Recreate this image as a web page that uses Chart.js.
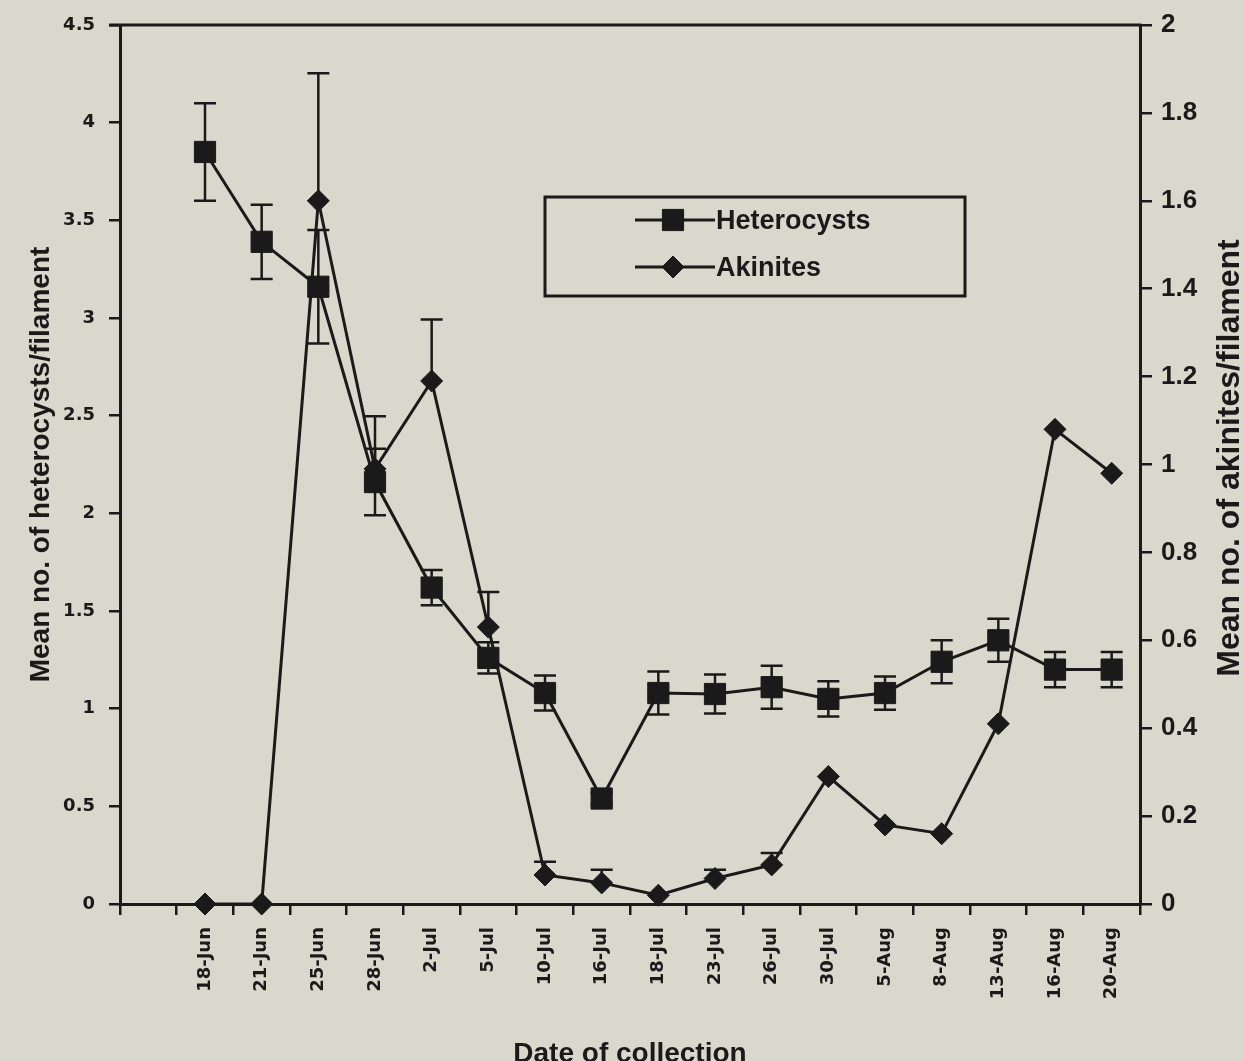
<!DOCTYPE html>
<html>
<head>
<meta charset="utf-8">
<script src="https://cdn.jsdelivr.net/npm/chart.js@4.4.0/dist/chart.umd.min.js"></script>
<style>
  html, body { margin: 0; padding: 0; background: #d9d8cc; }
  canvas { display: block; }
</style>
</head>
<body>
<canvas id="myChart" width="1244" height="1061"></canvas>
<script>
// dates of collection (first slot on the axis is left empty, as in the original)
var dates = ['18-Jun', '21-Jun', '25-Jun', '28-Jun', '2-Jul', '5-Jul', '10-Jul', '16-Jul', '18-Jul',
  '23-Jul', '26-Jul', '30-Jul', '5-Aug', '8-Aug', '13-Aug', '16-Aug', '20-Aug'];

// mean heterocysts per filament (left axis) and error (+/-)
var heterocysts = [3.85, 3.39, 3.16, 2.16, 1.62, 1.26, 1.08, 0.54, 1.08, 1.075, 1.11, 1.05, 1.08, 1.24, 1.35, 1.20, 1.20];
var heterocystsErr = [0.25, 0.19, 0.29, 0.17, 0.09, 0.08, 0.09, 0.03, 0.11, 0.10, 0.11, 0.09, 0.085, 0.11, 0.11, 0.09, 0.09];

// mean akinites per filament (right axis) and error (plus only)
var akinites = [0, 0, 1.60, 0.99, 1.19, 0.63, 0.066, 0.048, 0.02, 0.058, 0.089, 0.29, 0.18, 0.16, 0.41, 1.08, 0.98];
var akinitesErr = [0, 0, 0.29, 0.12, 0.14, 0.08, 0.03, 0.03, 0, 0.02, 0.027, 0, 0, 0, 0, 0, 0];

var ink = '#1a1a1a';
var fontFamily = "'Liberation Sans', Arial, sans-serif";
var wideFont = "'DejaVu Sans', Verdana, sans-serif";

var labels = [''].concat(dates);
var padNull = function(arr) { return [null].concat(arr); };
var plainNum = function(v) { return String(+(+v).toFixed(2)); };

var errorBars = {
  id: 'errorBars',
  beforeDatasetsDraw: function(chart) {
    var ctx = chart.ctx;
    ctx.save();
    ctx.strokeStyle = ink;
    ctx.lineWidth = 2.5;
    chart.data.datasets.forEach(function(ds, i) {
      var meta = chart.getDatasetMeta(i);
      var yScale = chart.scales[ds.yAxisID];
      ds.err.forEach(function(e, j) {
        var v = ds.data[j];
        if (v === null || !e) return;
        var x = meta.data[j].x;
        var yMid = yScale.getPixelForValue(v);
        var yTop = yScale.getPixelForValue(v + e);
        var yBot = ds.plusOnly ? yMid : yScale.getPixelForValue(v - e);
        ctx.beginPath();
        ctx.moveTo(x, yTop); ctx.lineTo(x, yBot);
        ctx.moveTo(x - 11, yTop); ctx.lineTo(x + 11, yTop);
        if (!ds.plusOnly) { ctx.moveTo(x - 11, yBot); ctx.lineTo(x + 11, yBot); }
        ctx.stroke();
      });
    });
    ctx.restore();
  }
};

var frameAndLegend = {
  id: 'frameAndLegend',
  afterDraw: function(chart) {
    var ctx = chart.ctx;
    var a = chart.chartArea;
    ctx.save();
    // top border of the plot
    ctx.strokeStyle = ink;
    ctx.lineWidth = 3;
    ctx.beginPath();
    ctx.moveTo(a.left - 11, a.top);
    ctx.lineTo(a.right + 1.5, a.top);
    ctx.stroke();

    // right axis title, reading bottom to top
    ctx.fillStyle = ink;
    ctx.font = 'bold 32px ' + fontFamily;
    ctx.textAlign = 'center';
    ctx.textBaseline = 'middle';
    ctx.translate(1230, 458);
    ctx.rotate(-Math.PI / 2);
    ctx.fillText('Mean no. of akinites/filament', 0, 0);
    ctx.restore();

    // legend box
    ctx.save();
    ctx.strokeStyle = ink;
    ctx.lineWidth = 3;
    ctx.strokeRect(545, 197, 420, 99);
    var rows = [220, 267];
    chart.data.datasets.forEach(function(ds, i) {
      var y = rows[i];
      ctx.strokeStyle = ink;
      ctx.lineWidth = 3;
      ctx.beginPath();
      ctx.moveTo(635, y); ctx.lineTo(715, y);
      ctx.stroke();
      ctx.fillStyle = ink;
      ctx.lineWidth = 1;
      Chart.helpers.drawPoint(ctx, {
        pointStyle: ds.pointStyle, radius: ds.pointRadius, borderWidth: 1, rotation: 0
      }, 673, y);
      ctx.fillStyle = ink;
      ctx.font = 'bold 27px ' + fontFamily;
      ctx.textAlign = 'left';
      ctx.textBaseline = 'middle';
      ctx.fillText(ds.label, 716, y + 2);
    });
    ctx.restore();
  }
};

var ctx = document.getElementById('myChart').getContext('2d');
var chart = new Chart(ctx, {
  type: 'line',
  data: {
    labels: labels,
    datasets: [{
      label: 'Heterocysts',
      data: padNull(heterocysts),
      err: padNull(heterocystsErr),
      plusOnly: false,
      yAxisID: 'y',
      borderColor: ink,
      backgroundColor: ink,
      borderWidth: 3,
      pointStyle: 'rect',
      pointRadius: 15,
      pointBorderWidth: 1,
      pointBackgroundColor: ink,
      pointBorderColor: ink,
      tension: 0,
      clip: false
    }, {
      label: 'Akinites',
      data: padNull(akinites),
      err: padNull(akinitesErr),
      plusOnly: true,
      yAxisID: 'y1',
      borderColor: ink,
      backgroundColor: ink,
      borderWidth: 3,
      pointStyle: 'rectRot',
      pointRadius: 11,
      pointBorderWidth: 1,
      pointBackgroundColor: ink,
      pointBorderColor: ink,
      tension: 0,
      clip: false
    }]
  },
  options: {
    responsive: false,
    animation: false,
    layout: { padding: { top: 25, left: 0, right: 0, bottom: 0 } },
    plugins: {
      legend: { display: false },
      tooltip: { enabled: false }
    },
    scales: {
      x: {
        type: 'category',
        offset: true,
        afterFit: function(scale) { scale.height = 157; },
        grid: { display: true, drawOnChartArea: false, offset: true, tickLength: 11, color: ink, lineWidth: 2.5 },
        border: { display: true, color: ink, width: 3 },
        ticks: {
          autoSkip: false, maxRotation: 90, minRotation: 90, padding: 12,
          color: ink, font: { family: wideFont, size: 18, weight: 'bold' }
        },
        title: {
          display: true, text: 'Date of collection', color: ink,
          font: { family: fontFamily, size: 28, weight: 'bold', lineHeight: 1 },
          padding: { top: 0, bottom: -7 }
        }
      },
      y: {
        position: 'left',
        min: 0, max: 4.5,
        afterFit: function(scale) { scale.width = 120; },
        grid: { drawOnChartArea: false, tickLength: 11, color: ink, lineWidth: 2.5 },
        border: { display: true, color: ink, width: 3 },
        ticks: {
          stepSize: 0.5, padding: 14, color: ink, callback: plainNum,
          font: { family: wideFont, size: 18, weight: 'bold' }
        },
        title: {
          display: true, text: 'Mean no. of heterocysts/filament', color: ink,
          font: { family: fontFamily, size: 28, weight: 'bold', lineHeight: 1.2 },
          padding: { top: 24, bottom: 0 }
        }
      },
      y1: {
        position: 'right',
        min: 0, max: 2,
        afterFit: function(scale) { scale.width = 104; },
        grid: { drawOnChartArea: false, tickLength: 12, color: ink, lineWidth: 2.5 },
        border: { display: true, color: ink, width: 3 },
        ticks: {
          stepSize: 0.2, padding: 9, color: ink, callback: plainNum,
          font: { family: fontFamily, size: 26, weight: 'bold' }
        }
      }
    }
  },
  plugins: [errorBars, frameAndLegend]
});
</script>
</body>
</html>
